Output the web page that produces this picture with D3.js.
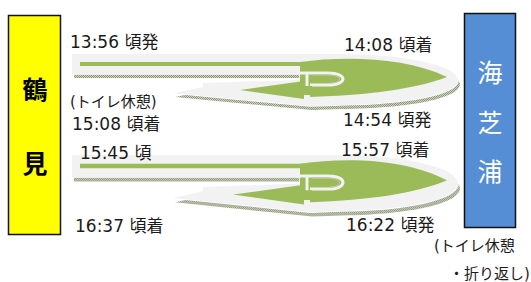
<!DOCTYPE html>
<html>
<head>
<meta charset="utf-8">
<script src="https://cdn.jsdelivr.net/npm/d3@7"></script>
<style>
  body { margin: 0; background: #fff; }
  text { font-family: "DejaVu Sans", "Noto Sans CJK JP", sans-serif; }
  .st { font-family: "Noto Sans CJK JP", sans-serif; }
</style>
</head>
<body>
<svg width="531" height="282"></svg>
<script>
// stations and times
var leftStation = ['鶴', '見'];
var rightStation = ['海', '芝', '浦'];
var departLeft = ['13:56 頃発', '15:45 頃'];
var arriveRight = ['14:08 頃着', '15:57 頃着'];
var departRight = ['14:54 頃発', '16:22 頃発'];
var arriveLeft = ['15:08 頃着', '16:37 頃着'];
var noteLeft = ['(トイレ休憩)'];
var noteRight = ['(トイレ休憩', '・折り返し)'];

var svg = d3.select('svg');
var defs = svg.append('defs');

var pat = defs.append('pattern')
  .attr('id', 'shade')
  .attr('patternUnits', 'userSpaceOnUse')
  .attr('width', 2).attr('height', 2);
pat.append('rect').attr('width', 2).attr('height', 2).attr('fill', '#cdd2c4');
pat.append('rect').attr('width', 1).attr('height', 1).attr('fill', '#8c9878');
pat.append('rect').attr('x', 1).attr('y', 1).attr('width', 1).attr('height', 1).attr('fill', '#8c9878');

// station boxes
svg.append('rect')
  .attr('x', 8.5).attr('y', 15.5).attr('width', 52).attr('height', 219)
  .attr('fill', '#ffff00').attr('stroke', '#111').attr('stroke-width', 1.5);
svg.append('rect')
  .attr('x', 464.5).attr('y', 13.5).attr('width', 51).attr('height', 214)
  .attr('fill', '#558ed5').attr('stroke', '#111').attr('stroke-width', 1.5);

var yLeft = d3.scalePoint().domain(leftStation).range([99, 173]);
var yRight = d3.scalePoint().domain(rightStation).range([82, 181]);

svg.selectAll('.ls')
  .data(leftStation)
  .enter().append('text')
  .attr('class', 'ls st')
  .attr('x', 35).attr('y', function (d) { return yLeft(d); })
  .attr('text-anchor', 'middle')
  .attr('font-size', 25).attr('font-weight', 'bold').attr('fill', '#000')
  .text(function (d) { return d; });

svg.selectAll('.rs')
  .data(rightStation)
  .enter().append('text')
  .attr('class', 'rs st')
  .attr('x', 490).attr('y', function (d) { return yRight(d); })
  .attr('text-anchor', 'middle')
  .attr('font-size', 25).attr('fill', '#fff')
  .text(function (d) { return d; });

// u-turn arrow shape, drawn once per leg
var band = 'M72,0H330V20H72Z';
var body = 'M300,0H345C410,1 458,12 458,26C458,40 410,50 340,51L310,52L173,39L203,33L203,29L300,26Z';
var green = '#9bbb59';
var line = d3.line();
var headPts = [[240, 36], [304, 27], [304, 32], [312, 32], [312, 41], [304, 41], [304, 45]];

function drawArrow(y0, sy, dx) {
  var g = svg.append('g').attr('transform', 'translate(0,' + y0 + ') scale(1,' + sy + ')');
  var sh = g.append('g').attr('transform', 'translate(2,4)');
  [band, body].forEach(function (p) {
    sh.append('path').attr('d', p).attr('fill', 'url(#shade)');
  });
  [band, body].forEach(function (p) {
    g.append('path').attr('d', p).attr('fill', '#f2f2f2')
      .attr('stroke', '#fff').attr('stroke-width', 1.5).attr('vector-effect', 'non-scaling-stroke');
  });
  [band, body].forEach(function (p) {
    g.append('path').attr('d', p).attr('fill', '#f2f2f2');
  });
  g.append('path').attr('d', 'M80,8H305V12H80Z').attr('fill', green);
  g.append('path').attr('d', 'M300,8C345,2 405,3 447,23C415,35 370,41 310,43L310,33L300,33Z').attr('fill', green);
  g.append('path').attr('d', 'M300,19H328C348,19 348,31 328,31H310M307,19V50')
    .attr('fill', 'none').attr('stroke', '#f2f2f2').attr('stroke-width', 3)
    .attr('vector-effect', 'non-scaling-stroke');
  g.append('path').attr('d', 'M312,21H328C343,21 343,29 330,29')
    .attr('fill', 'none').attr('stroke', '#c3c8b8').attr('stroke-width', 1)
    .attr('vector-effect', 'non-scaling-stroke');
  g.append('path')
    .attr('d', line(headPts.map(function (p, i) { return [i === 0 ? p[0] - dx : p[0], p[1]]; })) + 'Z')
    .attr('fill', green);
}

var legTop = [54, 155];
var legScale = [1, 1.1];
var legTip = [0, 7];
legTop.forEach(function (t, i) { drawArrow(t, legScale[i], legTip[i]); });

function label(x, y, s, size) {
  svg.append('text').attr('x', x).attr('y', y)
    .attr('font-size', size || 17).attr('fill', '#1a1a1a').text(s);
}

label(70, 48, departLeft[0]);
label(80, 159, departLeft[1]);
label(344, 51, arriveRight[0]);
label(341, 156, arriveRight[1]);
label(343, 126, departRight[0]);
label(346, 231, departRight[1]);
label(72, 130, arriveLeft[0]);
label(75, 232, arriveLeft[1]);
label(70, 107, noteLeft[0], 15);
label(434, 251, noteRight[0], 15);
label(449, 279, noteRight[1], 15);
</script>
</body>
</html>
